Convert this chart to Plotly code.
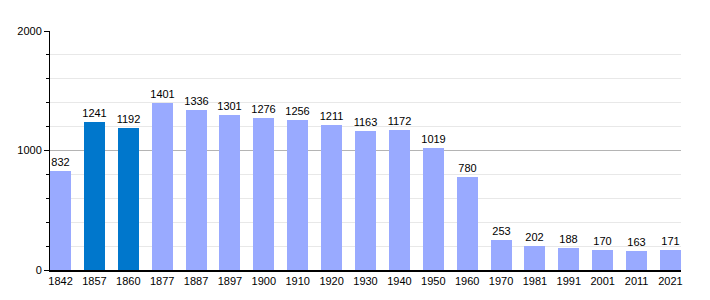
import plotly.graph_objects as go

years = ["1842", "1857", "1860", "1877", "1887", "1897", "1900", "1910", "1920", "1930",
         "1940", "1950", "1960", "1970", "1981", "1991", "2001", "2011", "2021"]
population = [832, 1241, 1192, 1401, 1336, 1301, 1276, 1256, 1211, 1163,
              1172, 1019, 780, 253, 202, 188, 170, 163, 171]
highlighted = ["1857", "1860"]

light = "#99aaff"
dark = "#0077cc"
colors = [dark if y in highlighted else light for y in years]

fig = go.Figure(go.Bar(
    x=years, y=population,
    marker=dict(color=colors, line=dict(width=0)),
    width=0.62,
    text=[str(v) for v in population],
    textposition="outside",
    textfont=dict(color="black", size=11),
    cliponaxis=False,
))

fig.update_layout(
    width=710, height=300,
    margin=dict(l=50, r=29, t=31, b=30),
    paper_bgcolor="white", plot_bgcolor="white",
    font=dict(family="Liberation Sans, Arial, sans-serif", size=11, color="black"),
    showlegend=False,
    bargap=0,
    uniformtext=dict(minsize=11, mode="show"),
)
fig.update_xaxes(
    type="category",
    range=[-0.31, 18.31],
    showline=True, linecolor="black", linewidth=2,
    ticks="", showgrid=False,
    tickfont=dict(size=11),
)
fig.update_yaxes(
    range=[0, 2000],
    dtick=1000, tick0=0,
    showline=True, linecolor="black", linewidth=1,
    ticks="outside", ticklen=5, tickcolor="black",
    showgrid=True, gridcolor="#b4b4b4", gridwidth=1,
    zeroline=False,
    minor=dict(dtick=200, tick0=0, showgrid=True, gridcolor="#e8e8e8",
               ticks="outside", ticklen=3, tickcolor="black"),
    tickfont=dict(size=11),
)

fig.write_html("out.html")
